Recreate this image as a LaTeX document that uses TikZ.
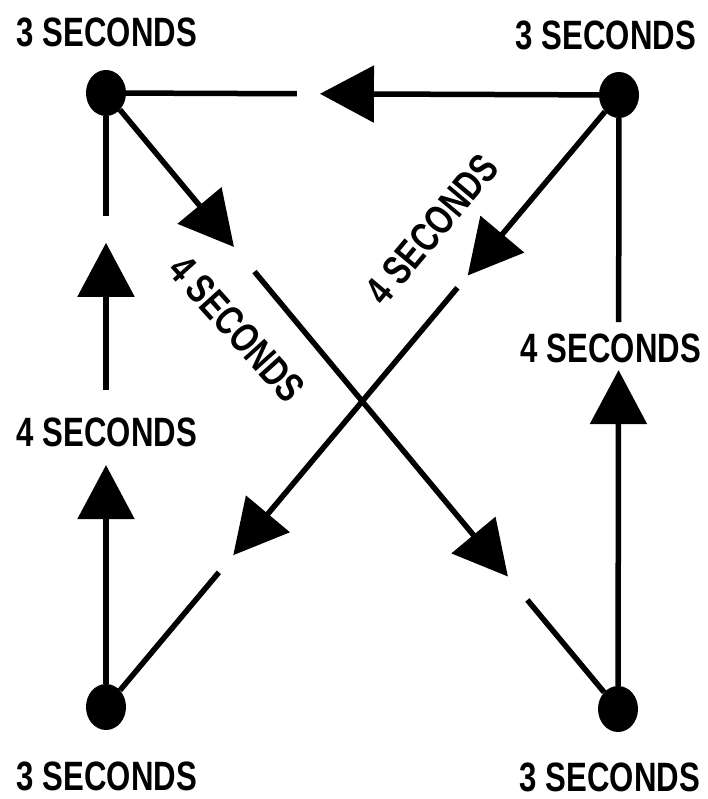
\documentclass[tikz,border=0pt]{standalone}
\usepackage{fontspec}
\setmainfont{Liberation Sans}
\usetikzlibrary{arrows.meta,calc,shapes.geometric}
\newcommand{\seclbl}[1]{\scalebox{0.76}[1]{#1}}
\begin{document}
\begin{tikzpicture}[x=1pt,y=1pt,
  dot/.style={ellipse,fill=black,draw=none,minimum width=40pt,minimum height=46pt,inner sep=0pt},
  conn/.style={line width=5.5pt,black},
  arr/.style={conn,-{Triangle[length=54pt,width=56pt]}},
  lab/.style={inner sep=0pt,font=\fontsize{41}{41}\selectfont\bfseries}]
\useasboundingbox (0,0) rectangle (707,799);
% corner dots
\node[dot] (TL) at (106,706) {};
\node[dot] (TR) at (619,704) {};
\node[dot] (BL) at (106,92) {};
\node[dot] (BR) at (618,90) {};
% corner labels
\node[lab] (lTL) at (107,767) {\seclbl{3 SECONDS}};
\node[lab] (lTR) at (606,764) {\seclbl{3 SECONDS}};
\node[lab] (lBL) at (107,23) {\seclbl{3 SECONDS}};
\node[lab] (lBR) at (610,22) {\seclbl{3 SECONDS}};
% side labels
\node[lab] (lL) at (107,367) {\seclbl{4 SECONDS}};
\node[lab] (lR) at (611,451) {\seclbl{4 SECONDS}};
\node[lab,rotate=-48] (lD1) at (237,470) {\seclbl{4 SECONDS}};
\node[lab,rotate=50] (lD2) at (432,570) {\seclbl{4 SECONDS}};
% top edge: TR -> TL
\coordinate (t1) at ($(TR)!0.583!(TL)$);
\coordinate (t2) at ($(TR)!0.628!(TL)$);
\draw[arr] (TR) -- (t1);
\draw[conn] (t2) -- (TL);
% left edge: BL -> TL
\coordinate (l1) at ($(BL)!0.394!(TL)$);
\coordinate (l2) at ($(BL)!0.516!(TL)$);
\coordinate (l3) at ($(BL)!0.756!(TL)$);
\coordinate (l4) at ($(BL)!0.80!(TL)$);
\draw[arr] (BL) -- (l1);
\draw[arr] (l2) -- (l3);
\draw[conn] (l4) -- (TL);
% right edge: BR -> TR
\coordinate (r1) at ($(BR)!0.552!(TR)$);
\coordinate (r2) at ($(BR)!0.630!(TR)$);
\draw[arr] (BR) -- (r1);
\draw[conn] (r2) -- (TR);
% diagonal TL -> BR
\coordinate (a1) at ($(TL)!0.25!(BR)$);
\coordinate (a2) at ($(TL)!0.29!(BR)$);
\coordinate (a3) at ($(TL)!0.785!(BR)$);
\coordinate (a4) at ($(TL)!0.823!(BR)$);
\draw[arr] (TL) -- (a1);
\draw[arr] (a2) -- (a3);
\draw[conn] (a4) -- (BR);
% diagonal TR -> BL
\coordinate (b1) at ($(TR)!0.295!(BL)$);
\coordinate (b2) at ($(TR)!0.315!(BL)$);
\coordinate (b3) at ($(TR)!0.752!(BL)$);
\coordinate (b4) at ($(TR)!0.78!(BL)$);
\draw[arr] (TR) -- (b1);
\draw[arr] (b2) -- (b3);
\draw[conn] (b4) -- (BL);
\end{tikzpicture}
\end{document}
